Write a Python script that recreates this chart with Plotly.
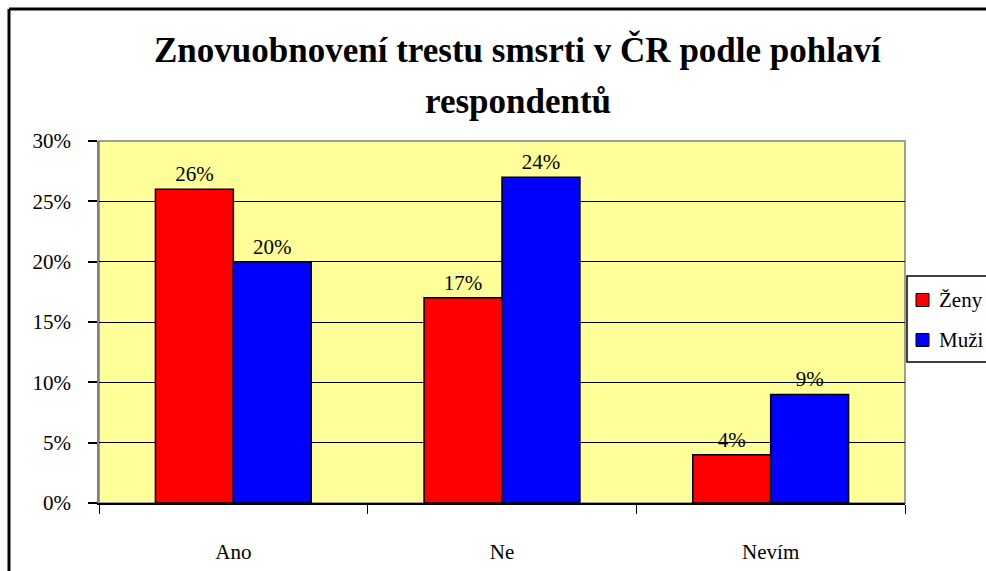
import plotly.graph_objects as go

categories = ["Ano", "Ne", "Nevím"]
zeny_values = [0.26, 0.17, 0.04]
muzi_values = [0.20, 0.27, 0.09]
zeny_labels = ["26%", "17%", "4%"]
muzi_labels = ["20%", "24%", "9%"]
y_ticks = [0, 0.05, 0.10, 0.15, 0.20, 0.25, 0.30]
series_names = ["Ženy", "Muži"]
series_colors = ["#FF0000", "#0000FF"]

FONT = "Liberation Serif"

# plot area in pixels: x 99..905, y 141..503
def px(x):
    return (x - 99) / 806

def py(y):
    return (503 - y) / 362

fig = go.Figure()
fig.add_trace(go.Bar(x=categories, y=zeny_values, name=series_names[0], text=zeny_labels,
                     marker=dict(color=series_colors[0], line=dict(color="black", width=1.5))))
fig.add_trace(go.Bar(x=categories, y=muzi_values, name=series_names[1], text=muzi_labels,
                     marker=dict(color=series_colors[1], line=dict(color="black", width=1.5))))
fig.update_traces(textposition="outside", cliponaxis=False,
                  textfont=dict(family=FONT, size=21, color="black"))

fig.update_layout(
    width=986, height=571,
    margin=dict(l=99, r=81, t=141, b=68, autoexpand=False),
    paper_bgcolor="white", plot_bgcolor="#FFFF99",
    font=dict(family=FONT, size=21, color="black"),
    barmode="group", bargap=0.42, bargroupgap=0,
    showlegend=False,
)
fig.update_xaxes(showgrid=False, showline=True, linecolor="black", linewidth=1.5,
                 ticks="outside", tickson="boundaries", ticklen=9, tickcolor="black",
                 ticklabelstandoff=29, tickfont=dict(family=FONT, size=21))
fig.update_yaxes(range=[0, 0.30], tickvals=y_ticks, tickformat=".0%",
                 showgrid=True, gridcolor="black", gridwidth=1,
                 showline=True, linecolor="#808080", linewidth=1.5,
                 ticks="outside", ticklen=9, tickcolor="black", tickwidth=1.5,
                 ticklabelstandoff=13, tickfont=dict(family=FONT, size=21), zeroline=False)

# title, two lines
for text, yc in [("<b>Znovuobnovení trestu smsrti v ČR podle pohlaví</b>", 50),
                 ("<b>respondentů</b>", 101)]:
    fig.add_annotation(text=text, xref="paper", yref="paper", x=px(518), y=py(yc),
                       xanchor="center", yanchor="middle", showarrow=False,
                       font=dict(family=FONT, size=35, color="black"))

# grey plot frame and outer chart border
fig.add_shape(type="rect", xref="paper", yref="paper", x0=0, x1=1, y0=0, y1=1,
              line=dict(color="#808080", width=1.5), layer="below")
fig.add_shape(type="line", xref="paper", yref="paper", x0=px(9), x1=px(1000), y0=py(9), y1=py(9),
              line=dict(color="black", width=3))
fig.add_shape(type="line", xref="paper", yref="paper", x0=px(9), x1=px(9), y0=py(9), y1=py(600),
              line=dict(color="black", width=3))

# legend box, drawn by hand so it sits like the original
fig.add_shape(type="rect", xref="paper", yref="paper", x0=px(907), x1=px(1000), y0=py(276), y1=py(362),
              line=dict(color="black", width=1.5), fillcolor="white")
for i, (name, color) in enumerate(zip(series_names, series_colors)):
    yc = 300 + i * 40
    fig.add_shape(type="rect", xref="paper", yref="paper", x0=px(916), x1=px(929),
                  y0=py(yc - 6.5), y1=py(yc + 6.5),
                  line=dict(color="black", width=1), fillcolor=color)
    fig.add_annotation(text=name, xref="paper", yref="paper", x=px(937), y=py(yc),
                       xanchor="left", yanchor="middle", showarrow=False,
                       font=dict(family=FONT, size=21, color="black"))

fig.write_html("out.html", config={"displayModeBar": False},
               post_script="document.body.style.margin='0';")
